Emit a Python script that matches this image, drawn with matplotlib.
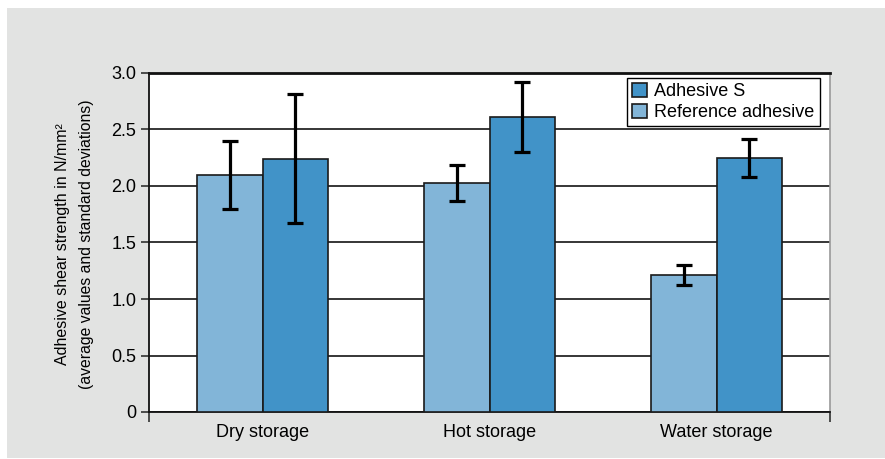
import numpy as np
import matplotlib.pyplot as plt
from matplotlib.patches import Rectangle

plt.rcParams['font.family'] = ['Liberation Sans', 'DejaVu Sans']

categories = ['Dry storage', 'Hot storage', 'Water storage']
ref_mean = [2.10, 2.03, 1.21]
ref_sd = [0.30, 0.16, 0.09]
adh_mean = [2.24, 2.61, 2.25]
adh_sd = [0.57, 0.31, 0.17]
yticks = [0, 0.5, 1.0, 1.5, 2.0, 2.5, 3.0]
ytick_labels = ['0', '0.5', '1.0', '1.5', '2.0', '2.5', '3.0']

c_ref = '#82b5d8'
c_adh = '#4193c8'

fig = plt.figure(figsize=(8.85, 4.59), dpi=100)
fig.patch.set_facecolor('white')
fig.patches.append(Rectangle((7 / 885, 1 / 459), 1, 450 / 459,
                             transform=fig.transFigure, facecolor='#e2e3e2',
                             edgecolor='none', zorder=-10))

ax = fig.add_axes([149 / 885, 47 / 459, 681 / 885, 339 / 459])
ax.set_facecolor('white')

x = np.arange(len(categories))
w = 0.29
err_kw = dict(ecolor='black', elinewidth=2.3, capsize=6, capthick=2.3)
ax.bar(x, ref_mean, width=-w, align='edge', color=c_ref, edgecolor='#1a1a1a',
       linewidth=1.2, zorder=3, label='Reference adhesive')
ax.bar(x, adh_mean, width=w, align='edge', color=c_adh, edgecolor='#1a1a1a',
       linewidth=1.2, zorder=3, label='Adhesive S')
ax.errorbar(x - w / 2, ref_mean, yerr=ref_sd, fmt='none', zorder=4, **err_kw)
ax.errorbar(x + w / 2, adh_mean, yerr=adh_sd, fmt='none', zorder=4, **err_kw)

ax.set_xlim(-0.5, 2.5)
ax.set_ylim(0, 3.0)
ax.set_yticks(yticks)
ax.set_yticklabels(ytick_labels, fontsize=13)
ax.yaxis.grid(True, color='black', linewidth=1.1)
ax.set_axisbelow(True)
ax.tick_params(axis='y', length=6, width=1.1, color='#222222', pad=3)

# category labels, ticks only at the axis ends
ax.set_xticks([-0.5, 2.5])
ax.set_xticklabels(['', ''])
ax.tick_params(axis='x', length=7, width=1.1, color='#222222')
for xi, name in zip(x, categories):
    ax.text(xi, -0.035, name, ha='center', va='top', fontsize=13,
            transform=ax.get_xaxis_transform())

for s in ['left', 'bottom', 'top']:
    ax.spines[s].set_color('#111111')
    ax.spines[s].set_linewidth(1.3)
ax.spines['top'].set_linewidth(2)
ax.spines['right'].set_color('#999999')
ax.spines['right'].set_linewidth(1.2)

handles, labels = ax.get_legend_handles_labels()
leg = ax.legend(handles[::-1], labels[::-1], loc='upper right',
                bbox_to_anchor=(0.99, 0.997), fontsize=13, frameon=True,
                fancybox=False, edgecolor='black', framealpha=1,
                handlelength=0.8, handleheight=0.8, handletextpad=0.4,
                borderpad=0.3, labelspacing=0.2, borderaxespad=0.2)
leg.get_frame().set_linewidth(1.0)

fig.text(63 / 885, (459 - 244) / 459, 'Adhesive shear strength in N/mm²',
         rotation=90, ha='center', va='center', fontsize=11.5)
fig.text(87 / 885, (459 - 244) / 459, '(average values and standard deviations)',
         rotation=90, ha='center', va='center', fontsize=11.3)

fig.savefig('out.png', dpi=100, facecolor=fig.get_facecolor())
